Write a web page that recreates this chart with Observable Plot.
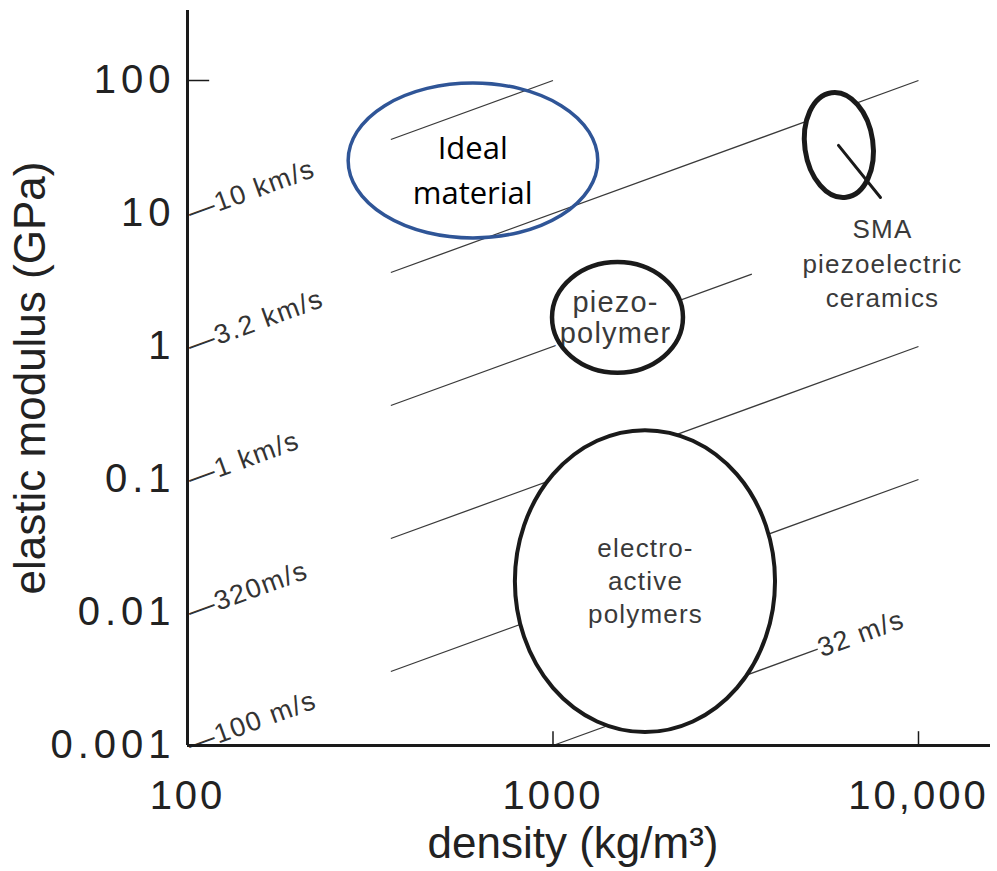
<!DOCTYPE html>
<html><head><meta charset="utf-8">
<script src="https://cdn.jsdelivr.net/npm/d3@7"></script>
<script src="https://cdn.jsdelivr.net/npm/@observablehq/plot@0.6"></script>
<style>body{margin:0;background:#fff}</style>
</head><body><div id="chart"></div>
<script>
// axes
const xTicks = [100, 1000, 10000];
const xTickLabels = ["100", "1000", "10,000"];
const yTicks = [0.001, 0.01, 0.1, 1, 10, 100];
const yTickLabels = ["0.001", "0.01", "0.1", "1", "10", "100"];

// constant sound-speed lines: endpoints (density kg/m3, modulus GPa)
const speedNames = ["10 km/s", "3.2 km/s", "1 km/s", "320m/s", "100 m/s", "32 m/s"];
const lineRho1 = [360, 360, 360, 360, 360, 1000];
const lineE1 = [36, 3.6, 0.36, 0.036, 0.0036, 0.001];
const lineRho2 = [1000, 10000, 3500, 10000, 10000, 5300];
const lineE2 = [100, 100, 3.5, 1, 0.1, 0.0053];
const speedLabelRho = [100, 100, 100, 100, 100, 5300];
const speedLabelE = [10, 1, 0.1, 0.01, 0.001, 0.0053];
const speedLabelText = ["—10 km/s", "—3.2 km/s", "—1 km/s", "—320m/s", "—100 m/s", "32 m/s"];

// material regions (extent in density and modulus)
const regionNames = ["Ideal material", "SMA piezoelectric ceramics", "piezo-polymer", "electro-active polymers"];
const regionRhoMin = [276, 4900, 997, 789];
const regionRhoMax = [1330, 7530, 2275, 4063];
const regionEMin = [6.5, 13, 0.63, 0.00125];
const regionEMax = [95, 81, 4.28, 0.233];
const regionTilt = [0, -8, 0, 0];
const regionStroke = ["#2f5597", "#1a1a1a", "#1a1a1a", "#1a1a1a"];
const regionFill = ["none", "white", "white", "white"];
const regionStrokeWidth = [3.5, 5, 4.5, 4];

const regionLabelText = ["Ideal\nmaterial", "SMA\npiezoelectric\nceramics", "piezo-\npolymer", "electro-\nactive\npolymers"];
const regionLabelRho = [603, 7970, 1483, 1791];
const regionLabelE = [22.5, 4.35, 1.65, 0.0177];
const regionLabelFont = ["Open Sans", "Liberation Sans", "Liberation Sans", "Liberation Sans"];
const regionLabelSize = [31, 26, 29, 26];
const regionLabelLineHeight = [1.45, 1.32, 1.08, 1.27];
const regionLabelColor = ["#000", "#3a3a3a", "#3a3a3a", "#3a3a3a"];

// SMA pointer
const pointerRho = [6040, 7870];
const pointerE = [32.5, 13.2];

const lines = speedNames.map((s, i) => ({s, x1: lineRho1[i], y1: lineE1[i], x2: lineRho2[i], y2: lineE2[i]}));
const speedLabels = speedLabelText.map((t, i) => ({t, x: speedLabelRho[i], y: speedLabelE[i]}));

const regionMark = (part) => (index, scales) => {
  const g = d3.create("svg:g");
  regionNames.forEach((name, i) => {
    const x0 = scales.x(regionRhoMin[i]), x1 = scales.x(regionRhoMax[i]);
    const y0 = scales.y(regionEMax[i]), y1 = scales.y(regionEMin[i]);
    const cx = (x0 + x1) / 2, cy = (y0 + y1) / 2;
    g.append("ellipse")
      .attr("cx", cx).attr("cy", cy)
      .attr("rx", Math.abs(x1 - x0) / 2).attr("ry", Math.abs(y1 - y0) / 2)
      .attr("transform", `rotate(${regionTilt[i]},${cx},${cy})`)
      .attr("fill", part === "fill" ? regionFill[i] : "none")
      .attr("stroke", part === "stroke" ? regionStroke[i] : "none")
      .attr("stroke-width", regionStrokeWidth[i]);
  });
  return g.node();
};

const regionTexts = regionLabelText.map((t, i) => Plot.text([t], {
  x: () => regionLabelRho[i], y: () => regionLabelE[i],
  text: d => d,
  fontFamily: regionLabelFont[i], fontSize: regionLabelSize[i],
  lineHeight: regionLabelLineHeight[i], fill: regionLabelColor[i],
  stroke: "white", strokeWidth: 12, textAnchor: "middle", lineAnchor: "middle"
}));

const chart = Plot.plot({
  width: 997,
  height: 871,
  marginLeft: 187,
  marginRight: 7,
  marginTop: 10,
  marginBottom: 126,
  style: {fontFamily: "'Liberation Sans', Arial, sans-serif", background: "white"},
  x: {type: "log", domain: [100, 15740]},
  y: {type: "log", domain: [0.001, 336]},
  marks: [
    Plot.link(lines, {x1: "x1", y1: "y1", x2: "x2", y2: "y2", stroke: "#3a3a3a", strokeWidth: 1.3}),
    regionMark("fill"),
    Plot.text(speedLabels, {x: "x", y: "y", text: "t", rotate: -20, textAnchor: "start", lineAnchor: "middle",
      dx: 1, fontSize: 27, fill: "#333", stroke: "white", strokeWidth: 4}),
    ...regionTexts,
    regionMark("stroke"),
    Plot.line(pointerRho.map((r, i) => ({r, e: pointerE[i]})), {x: "r", y: "e", stroke: "#1a1a1a", strokeWidth: 3}),
    Plot.ruleX([xTicks[0]], {stroke: "#1a1a1a", strokeWidth: 3}),
    Plot.ruleY([yTicks[0]], {stroke: "#1a1a1a", strokeWidth: 3}),
    Plot.ruleX(xTicks.slice(1), {y1: yTicks[0], y2: 0.00127, stroke: "#1a1a1a", strokeWidth: 1.5}),
    Plot.ruleY(yTicks.slice(-1), {x1: xTicks[0], x2: 115, stroke: "#1a1a1a", strokeWidth: 1.5}),
    Plot.axisX({ticks: xTicks, tickSize: 0, tickPadding: 35, fontSize: 40, color: "#222",
      tickFormat: d => xTickLabels[xTicks.indexOf(d)], label: null}),
    Plot.axisY({ticks: yTicks, tickSize: 0, tickPadding: 12, fontSize: 40, color: "#222",
      tickFormat: d => yTickLabels[yTicks.indexOf(d)], label: null}),
    Plot.text(["density (kg/m³)"], {frameAnchor: "bottom", lineAnchor: "middle", textAnchor: "middle",
      dx: -16, dy: 98, fontSize: 44, fill: "#222"}),
    Plot.text(["elastic modulus (GPa)"], {frameAnchor: "left", lineAnchor: "middle", textAnchor: "middle",
      rotate: -90, dx: -157, fontSize: 44, fill: "#222"})
  ]
});
const svg = d3.select(chart);
svg.selectAll('[aria-label="y-axis tick label"] text').attr("letter-spacing", 5);
svg.selectAll('[aria-label="x-axis tick label"] text').attr("letter-spacing", 3);
svg.selectAll("text").filter(function() { return speedLabelText.includes(this.textContent); })
  .attr("letter-spacing", 1.5);
const flatRegion = regionLabelText.slice(1).map(t => t.replace(/\n/g, ""));
svg.selectAll("text").filter(function() { return flatRegion.includes(this.textContent); })
  .attr("letter-spacing", 1.2);
document.getElementById("chart").appendChild(chart);
</script>
</body></html>
